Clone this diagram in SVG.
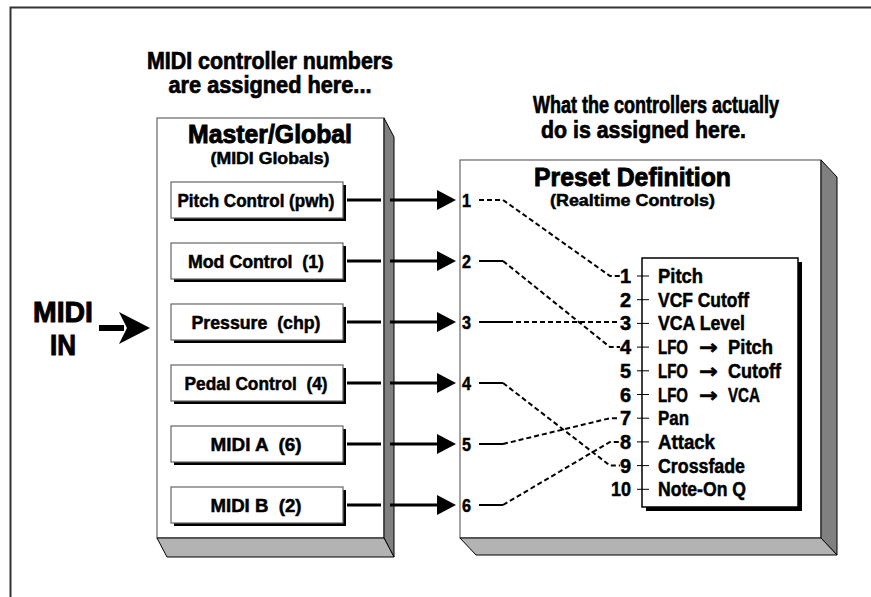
<svg xmlns="http://www.w3.org/2000/svg" width="871" height="597" viewBox="0 0 871 597">
<style>
text{font-family:"Liberation Sans","DejaVu Sans",Arial,sans-serif;font-weight:bold;fill:#000;stroke:#000;stroke-width:0.5}
.h{font-size:23px;text-anchor:middle;stroke-width:0.7}
.t{font-size:26px;text-anchor:middle;stroke-width:0.9}
.s{font-size:16.5px;text-anchor:middle}
.b{font-size:18px;text-anchor:middle}
.n{font-size:19px}
.li{font-size:20px}
.ln{font-size:20px;text-anchor:end}
.ar{font-family:"DejaVu Sans",sans-serif;font-size:20px}
.front{fill:#fff;stroke:#666;stroke-width:1.2}
.side{fill:#808080;stroke:#000;stroke-width:1}
.bottom{fill:#b3b3b3;stroke:#000;stroke-width:1}
.btn{fill:#fff;stroke:#666;stroke-width:1.2}
.shadow{fill:#000}
.arr{stroke:#000;stroke-width:3;fill:none}
.solid{stroke:#000;stroke-width:2;fill:none}
.dash{stroke:#000;stroke-width:2;fill:none;stroke-dasharray:5 3}
.tick{stroke:#000;stroke-width:1;fill:none}
</style>
<defs>
<polygon id="head" points="-19,-10 0,0 -19,10"/>
</defs>

<g id="frame">
<path d="M10.5,597 V7.5 H871" fill="none" stroke="#333" stroke-width="2"/>
</g>

<g id="heading-left">
<text class="h" x="270" y="69" textLength="246" lengthAdjust="spacingAndGlyphs">MIDI controller numbers</text>
<text class="h" x="270" y="93" textLength="203" lengthAdjust="spacingAndGlyphs">are assigned here...</text>
</g>
<g id="heading-right">
<text class="h" x="656" y="113" textLength="246" lengthAdjust="spacingAndGlyphs">What the controllers actually</text>
<text class="h" x="643.5" y="138" textLength="205" lengthAdjust="spacingAndGlyphs">do is assigned here.</text>
</g>

<g id="midi-in">
<text style="font-size:30px;text-anchor:middle;stroke-width:1"><tspan x="63" y="322" textLength="60" lengthAdjust="spacingAndGlyphs">MIDI</tspan><tspan x="63" y="355" textLength="26" lengthAdjust="spacingAndGlyphs">IN</tspan></text>
<line x1="99" y1="328" x2="124" y2="328" stroke="#000" stroke-width="6"/>
<polygon points="119,312 150,328 119,344 127,328" fill="#000"/>
</g>

<g id="master-global">
<rect class="front" x="157" y="118" width="227" height="420"/>
<polygon class="side" points="384,118 394,137 394,557 384,538"/>
<polygon class="bottom" points="157,538 384,538 394,557 167,557"/>
<text class="t" x="270" y="143" textLength="164" lengthAdjust="spacingAndGlyphs">Master/Global</text>
<text class="s" x="270" y="164" textLength="119" lengthAdjust="spacingAndGlyphs">(MIDI Globals)</text>
</g>

<g id="btn-pitch">
<rect class="shadow" x="174" y="185" width="172" height="36"/>
<rect class="btn" x="171" y="182" width="172" height="36"/>
<text class="b" x="256" y="206.5" textLength="157" lengthAdjust="spacingAndGlyphs">Pitch Control (pwh)</text>
</g>
<g id="btn-mod">
<rect class="shadow" x="174" y="246" width="172" height="36"/>
<rect class="btn" x="171" y="243" width="172" height="36"/>
<text class="b" x="256" y="267.5" textLength="136" lengthAdjust="spacingAndGlyphs" xml:space="preserve">Mod Control  (1)</text>
</g>
<g id="btn-pressure">
<rect class="shadow" x="174" y="307" width="172" height="36"/>
<rect class="btn" x="171" y="304" width="172" height="36"/>
<text class="b" x="256" y="328.5" textLength="129" lengthAdjust="spacingAndGlyphs" xml:space="preserve">Pressure  (chp)</text>
</g>
<g id="btn-pedal">
<rect class="shadow" x="174" y="368" width="172" height="36"/>
<rect class="btn" x="171" y="365" width="172" height="36"/>
<text class="b" x="256" y="389.5" textLength="143" lengthAdjust="spacingAndGlyphs" xml:space="preserve">Pedal Control  (4)</text>
</g>
<g id="btn-midi-a">
<rect class="shadow" x="174" y="429" width="172" height="36"/>
<rect class="btn" x="171" y="426" width="172" height="36"/>
<text class="b" x="256" y="450.5" textLength="91" lengthAdjust="spacingAndGlyphs" xml:space="preserve">MIDI A  (6)</text>
</g>
<g id="btn-midi-b">
<rect class="shadow" x="174" y="490" width="172" height="36"/>
<rect class="btn" x="171" y="487" width="172" height="36"/>
<text class="b" x="256" y="511.5" textLength="91" lengthAdjust="spacingAndGlyphs" xml:space="preserve">MIDI B  (2)</text>
</g>

<g id="preset-definition">
<rect class="front" x="460" y="160" width="361" height="378"/>
<polygon class="side" points="821,160 837,177 837,555 821,538"/>
<polygon class="bottom" points="460,538 821,538 837,555 476,555"/>
<text class="t" x="632.5" y="186" textLength="197" lengthAdjust="spacingAndGlyphs">Preset Definition</text>
<text class="s" x="632.5" y="206" textLength="165" lengthAdjust="spacingAndGlyphs">(Realtime Controls)</text>
<text class="n" x="462" y="206.5" textLength="9" lengthAdjust="spacingAndGlyphs">1</text>
<text class="n" x="462" y="267.5" textLength="9" lengthAdjust="spacingAndGlyphs">2</text>
<text class="n" x="462" y="328.5" textLength="9" lengthAdjust="spacingAndGlyphs">3</text>
<text class="n" x="462" y="389.5" textLength="9" lengthAdjust="spacingAndGlyphs">4</text>
<text class="n" x="462" y="450.5" textLength="9" lengthAdjust="spacingAndGlyphs">5</text>
<text class="n" x="462" y="511.5" textLength="9" lengthAdjust="spacingAndGlyphs">6</text>
</g>

<g id="realtime-list">
<rect class="shadow" x="646" y="262" width="156" height="249"/>
<rect x="642" y="258" width="156" height="249" fill="#fff" stroke="#000" stroke-width="1.5"/>
<path class="tick" d="M637,276H649M637,299.7H649M637,323.4H649M637,347.1H649M637,370.8H649M637,394.5H649M637,418.2H649M637,441.9H649M637,465.6H649M637,489.3H649"/>
<text class="ln" x="631" y="283">1</text>
<text class="ln" x="631" y="306.7">2</text>
<text class="ln" x="631" y="330.4">3</text>
<text class="ln" x="631" y="354.1">4</text>
<text class="ln" x="631" y="377.8">5</text>
<text class="ln" x="631" y="401.5">6</text>
<text class="ln" x="631" y="425.2">7</text>
<text class="ln" x="631" y="448.9">8</text>
<text class="ln" x="631" y="472.6">9</text>
<text class="ln" x="631" y="496.3" textLength="20" lengthAdjust="spacingAndGlyphs">10</text>
<text class="li" x="658" y="283" textLength="45" lengthAdjust="spacingAndGlyphs">Pitch</text>
<text class="li" x="658" y="306.7" textLength="91" lengthAdjust="spacingAndGlyphs">VCF Cutoff</text>
<text class="li" x="658" y="330.4" textLength="87" lengthAdjust="spacingAndGlyphs">VCA Level</text>
<text class="li" y="354.1"><tspan x="658" textLength="30" lengthAdjust="spacingAndGlyphs">LFO</tspan> <tspan class="ar" x="699" textLength="19" lengthAdjust="spacingAndGlyphs">→</tspan> <tspan x="728" textLength="45" lengthAdjust="spacingAndGlyphs">Pitch</tspan></text>
<text class="li" y="377.8"><tspan x="658" textLength="30" lengthAdjust="spacingAndGlyphs">LFO</tspan> <tspan class="ar" x="699" textLength="19" lengthAdjust="spacingAndGlyphs">→</tspan> <tspan x="728" textLength="53" lengthAdjust="spacingAndGlyphs">Cutoff</tspan></text>
<text class="li" y="401.5"><tspan x="658" textLength="30" lengthAdjust="spacingAndGlyphs">LFO</tspan> <tspan class="ar" x="699" textLength="19" lengthAdjust="spacingAndGlyphs">→</tspan> <tspan x="728" textLength="32" lengthAdjust="spacingAndGlyphs">VCA</tspan></text>
<text class="li" x="658" y="425.2" textLength="31" lengthAdjust="spacingAndGlyphs">Pan</text>
<text class="li" x="658" y="448.9" textLength="57" lengthAdjust="spacingAndGlyphs">Attack</text>
<text class="li" x="658" y="472.6" textLength="87" lengthAdjust="spacingAndGlyphs">Crossfade</text>
<text class="li" x="658" y="496.3" textLength="88" lengthAdjust="spacingAndGlyphs">Note-On Q</text>
</g>

<g id="connectors">
<path class="arr" d="M347,200H381M390,200H438M347,261H381M390,261H438M347,322H381M390,322H438M347,383H381M390,383H438M347,444H381M390,444H438M347,505H381M390,505H438"/>
<use href="#head" x="456" y="200"/>
<use href="#head" x="456" y="261"/>
<use href="#head" x="456" y="322"/>
<use href="#head" x="456" y="383"/>
<use href="#head" x="456" y="444"/>
<use href="#head" x="456" y="505"/>
<path class="dash" d="M479,200H503L610,276H620"/>
<path class="solid" d="M479,261H503M479,322H508M479,383H503M479,444H503M479,505H503"/>
<path class="dash" d="M503,261L610,347.1H620"/>
<path class="dash" d="M508,322H620"/>
<path class="dash" d="M503,383L610,465.6H620"/>
<path class="dash" d="M503,444L610,418.2H620"/>
<path class="dash" d="M503,505L610,441.9H620"/>
</g>
</svg>
